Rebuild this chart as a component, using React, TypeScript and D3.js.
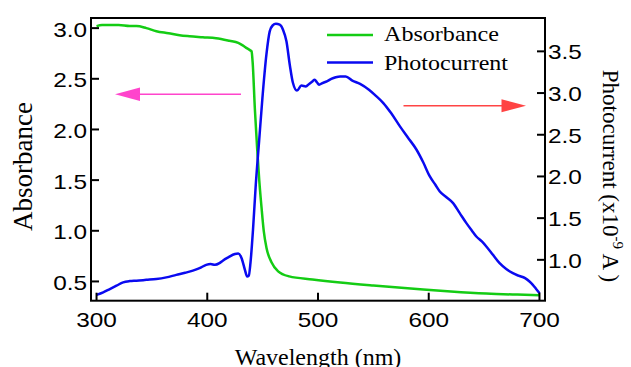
import React from "react";
import * as d3 from "d3";

const absWl = [300, 305, 312, 320, 330, 336, 345, 354, 365, 375, 384, 396, 408, 420, 428, 432, 436, 439, 440, 441, 443, 445, 447, 449, 451, 453.5, 458, 464, 474, 495, 520, 550, 595, 620, 652, 680, 700];
const absVal = [3.02, 3.03, 3.03, 3.03, 3.02, 3.02, 3.0, 2.97, 2.95, 2.93, 2.92, 2.91, 2.9, 2.875, 2.855, 2.83, 2.8, 2.78, 2.77, 2.66, 2.2, 1.82, 1.49, 1.23, 1.0, 0.83, 0.69, 0.6, 0.55, 0.52, 0.49, 0.46, 0.42, 0.4, 0.38, 0.37, 0.365];

const pcWl = [300, 306, 312, 318, 324, 330, 336, 345, 354, 363, 372, 380, 387, 393, 399, 403, 407, 411, 414, 419, 425, 428, 431, 434, 436, 437.5, 439, 441.3, 443.8, 446.8, 449.8, 453.4, 456.4, 459, 462, 465.4, 468.4, 471.5, 474.5, 477.4, 481, 485, 489, 492, 495, 497, 499, 501, 504, 508, 512, 516, 520, 525, 531, 538, 546, 552, 559, 566, 574, 581, 589, 595, 601, 606, 610, 616, 622, 628, 634, 639, 643, 648, 652, 658, 664, 670, 676, 681, 687, 691, 694, 697, 700];
const pcVal = [0.58, 0.61, 0.65, 0.69, 0.73, 0.745, 0.75, 0.76, 0.77, 0.79, 0.82, 0.845, 0.87, 0.9, 0.94, 0.95, 0.94, 0.96, 0.99, 1.03, 1.07, 1.075, 1.02, 0.88, 0.8, 0.81, 0.96, 1.36, 1.9, 2.42, 2.94, 3.46, 3.74, 3.81, 3.83, 3.82, 3.76, 3.62, 3.34, 3.12, 3.03, 3.09, 3.08, 3.11, 3.14, 3.16, 3.13, 3.1, 3.12, 3.14, 3.17, 3.19, 3.2, 3.2, 3.15, 3.11, 3.04, 2.97, 2.88, 2.76, 2.6, 2.47, 2.32, 2.17, 2.0, 1.9, 1.82, 1.75, 1.68, 1.56, 1.44, 1.35, 1.28, 1.22, 1.16, 1.06, 0.96, 0.89, 0.84, 0.81, 0.78, 0.74, 0.7, 0.65, 0.6];

const xTicks = [300, 400, 500, 600, 700];
const yLeftTicks = [0.5, 1.0, 1.5, 2.0, 2.5, 3.0];
const yRightTicks = [1.0, 1.5, 2.0, 2.5, 3.0, 3.5];
const seriesNames = ["Absorbance", "Photocurrent"];
const seriesColors = ["#14cc14", "#0a0af0"];

const W = 631, H = 367;
const L = 91, R = 545, T = 18, B = 300.7;

export default function App() {
  const x = d3.scaleLinear().domain([295, 705]).range([L, R]);
  const yL = d3.scaleLinear().domain([0.31, 3.1]).range([B, T]);
  const yR = d3.scaleLinear().domain([0.51, 3.9]).range([B, T]);

  const absData = absWl.map((w, i) => [w, absVal[i]] as [number, number]);
  const pcData = pcWl.map((w, i) => [w, pcVal[i]] as [number, number]);

  const absLine = d3.line<[number, number]>().x(d => x(d[0])).y(d => yL(d[1])).curve(d3.curveMonotoneX);
  const pcLine = d3.line<[number, number]>().x(d => x(d[0])).y(d => yR(d[1])).curve(d3.curveMonotoneX);

  const tickFont = "'Liberation Sans', Arial, sans-serif";
  const serif = "'Liberation Serif', 'Times New Roman', serif";
  const sx = 1.16;

  return (
    <svg width={W} height={H} style={{ position: "absolute", left: 0, top: 0, background: "#fff" }}>
      <defs>
        <clipPath id="plotclip">
          <rect x={L} y={T} width={R - L} height={B - T} />
        </clipPath>
      </defs>
      <rect x={0} y={0} width={W} height={H} fill="#fff" />

      {/* curves */}
      <g clipPath="url(#plotclip)">
        <path d={absLine(absData) || ""} fill="none" stroke={seriesColors[0]} strokeWidth={2.5} strokeLinejoin="round" />
        <path d={pcLine(pcData) || ""} fill="none" stroke={seriesColors[1]} strokeWidth={2.5} strokeLinejoin="round" />
      </g>

      {/* frame */}
      <rect x={L} y={T} width={R - L} height={B - T} fill="none" stroke="#000" strokeWidth={2} />

      {/* x ticks */}
      {xTicks.map(t => (
        <g key={"x" + t}>
          <line x1={x(t)} x2={x(t)} y1={B} y2={B - 8} stroke="#000" strokeWidth={2} />
          <g transform={`translate(${x(t)},${B + 26}) scale(${sx},1)`}>
            <text textAnchor="middle" fontFamily={tickFont} fontSize={21} fill="#000">{t}</text>
          </g>
        </g>
      ))}

      {/* left y ticks */}
      {yLeftTicks.map(t => (
        <g key={"yl" + t}>
          <line x1={L} x2={L + 8} y1={yL(t)} y2={yL(t)} stroke="#000" strokeWidth={2} />
          <g transform={`translate(${L - 4},${yL(t) + 8.5}) scale(${sx},1)`}>
            <text textAnchor="end" fontFamily={tickFont} fontSize={21} fill="#000">{t.toFixed(1)}</text>
          </g>
        </g>
      ))}

      {/* right y ticks */}
      {yRightTicks.map(t => (
        <g key={"yr" + t}>
          <line x1={R} x2={R - 8} y1={yR(t)} y2={yR(t)} stroke="#000" strokeWidth={2} />
          <g transform={`translate(${R + 3},${yR(t) + 8}) scale(${sx},1)`}>
            <text textAnchor="start" fontFamily={tickFont} fontSize={21} fill="#000">{t.toFixed(1)}</text>
          </g>
        </g>
      ))}

      {/* axis titles */}
      <text x={318} y={365} textAnchor="middle" fontFamily={serif} fontSize={24} fill="#000">Wavelength (nm)</text>
      <text transform="translate(31.5,166.5) rotate(-90)" textAnchor="middle" fontFamily={serif} fontSize={27} fill="#000">Absorbance</text>
      <text transform="translate(603,176) rotate(90)" textAnchor="middle" fontFamily={serif} fontSize={23} fill="#000">
        <tspan>Photocurrent (x10</tspan>
        <tspan fontSize={15} dy={-10}>-9</tspan>
        <tspan dy={10}> A )</tspan>
      </text>

      {/* legend */}
      <line x1={327} x2={373} y1={35} y2={35} stroke={seriesColors[0]} strokeWidth={2.5} />
      <text x={384} y={41} fontFamily={serif} fontSize={22} fill="#000" textLength={115} lengthAdjust="spacingAndGlyphs">{seriesNames[0]}</text>
      <line x1={327} x2={373} y1={62.5} y2={62.5} stroke={seriesColors[1]} strokeWidth={2.5} />
      <text x={384} y={69.5} fontFamily={serif} fontSize={22} fill="#000" textLength={124} lengthAdjust="spacingAndGlyphs">{seriesNames[1]}</text>

      {/* arrows */}
      <line x1={241} x2={138} y1={94.3} y2={94.3} stroke="#ff44cc" strokeWidth={1.5} />
      <polygon points={`115,94.3 140,87.6 140,101`} fill="#ff44cc" />
      <line x1={403.5} x2={503} y1={105.7} y2={105.7} stroke="#ff4444" strokeWidth={1.5} />
      <polygon points={`526,105.7 501.5,99.2 501.5,112.2`} fill="#ff4444" />
    </svg>
  );
}
